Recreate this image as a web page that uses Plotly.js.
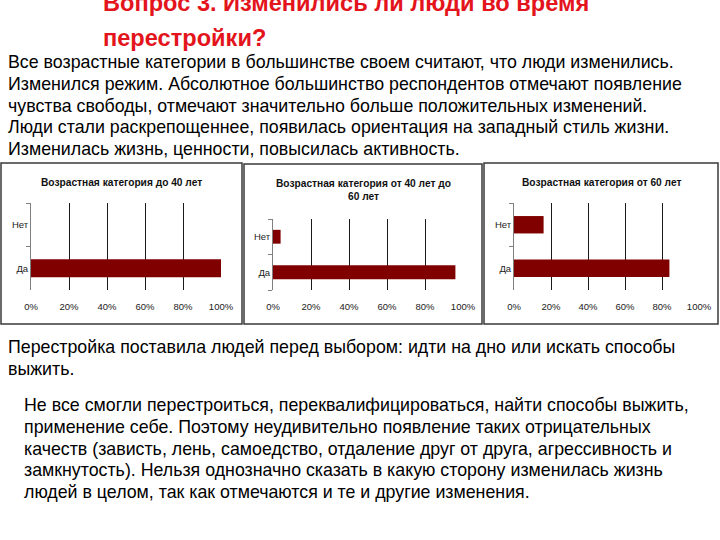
<!DOCTYPE html>
<html>
<head>
<meta charset="utf-8">
<script src="https://cdn.plot.ly/plotly-3.0.1.min.js"></script>
<style>html,body{margin:0;padding:0;background:#fff;}#chart{width:720px;height:540px;}</style>
</head>
<body>
<div id="chart"></div>
<script>
// ---- data ----
var categories = ["Да", "Нет"];
var under40 = [1.00, 0.00];
var from40to60 = [0.96, 0.04];
var over60 = [0.84, 0.16];
var xTickValues = [0, 0.2, 0.4, 0.6, 0.8, 1.0];
var panelTitles = [
  "Возрастная категория до 40 лет",
  "Возрастная категория от 40 лет до<br>60 лет",
  "Возрастная категория от 60 лет"
];
var titleLines = ["Вопрос 3. Изменились ли люди во время", "перестройки?"];
var bodyLines = [
  "Все возрастные категории в большинстве своем считают, что люди изменились.",
  "Изменился режим. Абсолютное большинство респондентов отмечают появление",
  "чувства свободы, отмечают значительно больше положительных изменений.",
  "Люди стали раскрепощеннее, появилась ориентация на западный стиль жизни.",
  "Изменилась жизнь, ценности, повысилась активность."
];
var para1Lines = [
  "Перестройка поставила людей перед выбором: идти на дно или искать способы",
  "выжить."
];
var para2Lines = [
  "Не все смогли перестроиться, переквалифицироваться, найти способы выжить,",
  "применение себе. Поэтому неудивительно появление таких отрицательных",
  "качеств (зависть, лень, самоедство, отдаление друг от друга, агрессивность и",
  "замкнутость). Нельзя однозначно сказать в какую сторону изменилась жизнь",
  "людей в целом, так как отмечаются и те и другие изменения."
];

// ---- helpers (pixel -> paper) ----
var W = 720, H = 540;
function px(x){ return x / W; }
function py(y){ return 1 - y / H; }

var FONT = "Liberation Sans, Arial, sans-serif";
var barColor = "#800000";

function barTrace(vals, xa, ya, w){
  return {
    type: "bar", orientation: "h",
    y: categories, x: vals,
    xaxis: xa, yaxis: ya,
    width: w,
    marker: {color: barColor, line: {width: 0}},
    hoverinfo: "x+y"
  };
}

var data = [
  barTrace(under40, "x", "y", 0.41),
  barTrace(from40to60, "x2", "y2", 0.39),
  barTrace(over60, "x3", "y3", 0.40)
];

function xAxis(domain, anchor){
  return {
    domain: domain, anchor: anchor,
    range: [0, 1], tickvals: xTickValues, tickformat: ".0%",
    showgrid: true, gridcolor: "#1a1a1a", gridwidth: 1,
    zeroline: false, showline: false,
    ticks: "outside", ticklen: 8, tickcolor: "rgba(0,0,0,0)",
    tickfont: {family: FONT, size: 9.5, color: "#222"},
    fixedrange: true
  };
}
function yAxis(domain, anchor){
  return {
    domain: domain, anchor: anchor,
    type: "category", categoryarray: categories, categoryorder: "array",
    range: [-0.5, 1.5],
    showgrid: false, zeroline: false,
    showline: true, linecolor: "#808080", linewidth: 1,
    ticks: "outside", ticklen: 4, tickcolor: "#808080", tickson: "boundaries",
    tickfont: {family: FONT, size: 9.5, color: "#222"},
    fixedrange: true
  };
}

var annotations = [];
function textLine(t, x, y, size, color, bold){
  annotations.push({
    text: bold ? "<b>" + t + "</b>" : t,
    x: px(x), y: py(y), xref: "paper", yref: "paper",
    xanchor: "left", yanchor: "middle", showarrow: false,
    font: {family: FONT, size: size, color: color}
  });
}
// slide title
textLine(titleLines[0], 101, 3, 23.6, "#e3141b", true);
textLine(titleLines[1], 101, 38, 23.6, "#e3141b", true);
// body text
bodyLines.forEach(function(t, i){ textLine(t, 6, 62 + i * 21.8, 17.8, "#000", false); });
para1Lines.forEach(function(t, i){ textLine(t, 6, 347 + i * 22, 17.8, "#000", false); });
para2Lines.forEach(function(t, i){ textLine(t, 22, 405 + i * 21.8, 17.8, "#000", false); });

// panel titles
var panelTitlePos = [[121.5, 182], [363, 190], [601, 182]];
panelTitles.forEach(function(t, i){
  annotations.push({
    text: "<b>" + t + "</b>",
    x: px(panelTitlePos[i][0]), y: py(panelTitlePos[i][1]),
    xref: "paper", yref: "paper", xanchor: "center", yanchor: "middle",
    showarrow: false, align: "center",
    font: {family: FONT, size: 10.2, color: "#111"}
  });
});

function rect(x0, y0, x1, y1){
  return {type: "rect", xref: "paper", yref: "paper",
    x0: px(x0), x1: px(x1), y0: py(y1), y1: py(y0),
    line: {color: "#3a3a3a", width: 1.5}, fillcolor: "rgba(0,0,0,0)"};
}

var layout = {
  width: W, height: H,
  margin: {l: 0, r: 0, t: 0, b: 0},
  paper_bgcolor: "#fff", plot_bgcolor: "rgba(0,0,0,0)",
  showlegend: false,
  xaxis: xAxis([px(31), px(221)], "y"),
  yaxis: yAxis([py(290), py(203)], "x"),
  xaxis2: xAxis([px(273), px(463)], "y2"),
  yaxis2: yAxis([py(290), py(219)], "x2"),
  xaxis3: xAxis([px(514), px(699)], "y3"),
  yaxis3: yAxis([py(290), py(203)], "x3"),
  annotations: annotations,
  shapes: [rect(1, 163, 242, 324), rect(244, 164, 482, 324), rect(484, 163, 718, 324)]
};

Plotly.newPlot("chart", data, layout, {displayModeBar: false});
</script>
</body>
</html>
